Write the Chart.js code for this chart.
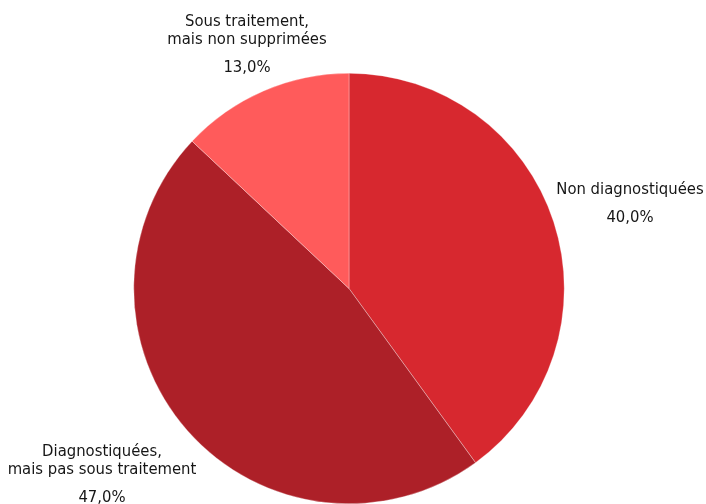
<!DOCTYPE html>
<html lang="fr">
<head>
<meta charset="utf-8">
<script src="https://cdn.jsdelivr.net/npm/chart.js@4/dist/chart.umd.min.js"></script>
<style>
  html, body { margin: 0; padding: 0; background: #fff; overflow: hidden; }
  #wrap { width: 706px; height: 504px; position: relative; }
</style>
</head>
<body>
<div id="wrap"><canvas id="pieChart"></canvas></div>
<script>
// Catégories et parts (en %)
const categories = [
    ['Non diagnostiquées'],
    ['Diagnostiquées,', 'mais pas sous traitement'],
    ['Sous traitement,', 'mais non supprimées']
];
const valeurs = [40.0, 47.0, 13.0];
const couleurs = ['#D7282F', '#AD2028', '#FF5B5B'];

// Position des étiquettes (centre x, première ligne de base y)
const posEtiquettes = [
    { x: 630, y: 194 },
    { x: 102, y: 456 },
    { x: 247, y: 26 }
];

const FONT = '16.5px "DejaVu Sans Condensed", Roboto, sans-serif';

// Plugin simple pour écrire le nom et le pourcentage à l'extérieur des parts
const etiquettesPlugin = {
    id: 'etiquettes',
    afterDatasetsDraw(chart) {
        const ctx = chart.ctx;
        ctx.save();
        ctx.font = FONT;
        ctx.fillStyle = '#161616';
        ctx.textAlign = 'center';
        ctx.textBaseline = 'alphabetic';
        categories.forEach((lignes, i) => {
            const p = posEtiquettes[i];
            let y = p.y;
            lignes.forEach((l, k) => {
                ctx.fillText(l, p.x, y);
                if (k < lignes.length - 1) y += 18;
            });
            ctx.fillText(valeurs[i].toFixed(1).replace('.', ',') + '%', p.x, y + 28);
        });
        ctx.restore();
    }
};

new Chart(document.getElementById('pieChart'), {
    type: 'pie',
    data: {
        labels: categories.map(c => c.join(' ')),
        datasets: [{
            data: valeurs,
            backgroundColor: couleurs,
            borderColor: 'rgba(255,255,255,0.6)',
            borderWidth: 0.5
        }]
    },
    options: {
        responsive: true,
        maintainAspectRatio: false,
        animation: false,
        layout: {
            padding: { top: 73, bottom: 0, left: 133, right: 141 }
        },
        plugins: {
            legend: { display: false },
            tooltip: { enabled: false }
        }
    },
    plugins: [etiquettesPlugin]
});
</script>
</body>
</html>
